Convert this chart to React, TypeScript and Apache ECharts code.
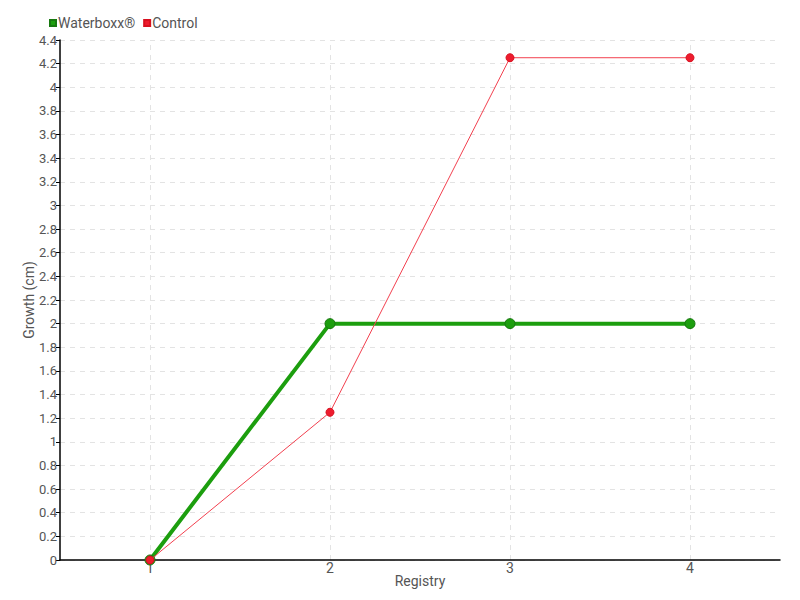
import React, { useEffect, useRef } from "react";
import * as echarts from "echarts";

const categories = ["1", "2", "3", "4"];
const waterboxx = [0, 2, 2, 2];
const control = [0, 1.25, 4.25, 4.25];
const seriesNames = ["Waterboxx®", "Control"];
const xAxisName = "Registry";
const yAxisName = "Growth (cm)";

const FONT = "Roboto, 'Liberation Sans Narrow', sans-serif";
const GRID = "#e3e3e3";

export default function App() {
  const ref = useRef<HTMLDivElement>(null);
  useEffect(() => {
    const chart = echarts.init(ref.current!, null, { renderer: "svg" });
    chart.setOption({
      animation: false,
      backgroundColor: "#fff",
      textStyle: { fontFamily: FONT },
      legend: {
        left: 44,
        top: 11,
        itemWidth: 6,
        itemHeight: 6,
        itemGap: 8,
        icon: "rect",
        textStyle: { fontFamily: FONT, fontSize: 14, color: "#555", padding: [0, 0, 0, -3] },
        data: seriesNames,
      },
      graphic: [
        {
          type: "text",
          x: 420,
          y: 581,
          style: {
            text: xAxisName,
            fontFamily: FONT,
            fontSize: 14,
            fill: "#555",
            align: "center",
            verticalAlign: "middle",
          },
        },
        {
          type: "text",
          x: 29,
          y: 300,
          rotation: Math.PI / 2,
          style: {
            text: yAxisName,
            fontFamily: FONT,
            fontSize: 14,
            fill: "#555",
            align: "center",
            verticalAlign: "middle",
          },
        },
      ],
      grid: { left: 60, right: 20, top: 40, bottom: 40, containLabel: false },
      xAxis: {
        type: "category",
        data: categories,
        boundaryGap: true,
        axisLine: { lineStyle: { color: "#000", width: 1.5 } },
        axisTick: { alignWithLabel: true, length: 6, inside: false, lineStyle: { color: "#555" } },
        axisLabel: { fontFamily: FONT, fontSize: 14, color: "#555", margin: 1 },
        splitLine: { show: false },
      },
      yAxis: {
        type: "value",
        min: 0,
        max: 4.4,
        interval: 0.2,
        axisLine: { show: true, lineStyle: { color: "#000", width: 1.5 } },
        axisTick: { show: true, length: 4, lineStyle: { color: "#000" } },
        axisLabel: { fontFamily: FONT, fontSize: 13, color: "#555", margin: 3 },
        splitLine: { show: true, lineStyle: { color: GRID, type: [5, 5] } },
      },
      series: [
        {
          name: seriesNames[0],
          type: "line",
          data: waterboxx,
          color: "#1c9e0e",
          lineStyle: { width: 4, color: "#1c9e0e" },
          symbol: "circle",
          symbolSize: 10,
          itemStyle: { color: "#1c9e0e", borderColor: "#17780f", borderWidth: 1 },
          markLine: {
            silent: true,
            symbol: "none",
            label: { show: false },
            lineStyle: { color: GRID, type: [5, 5], width: 1 },
            data: categories.map((c) => ({ xAxis: c })),
            z: 0,
          },
          z: 2,
        },
        {
          name: seriesNames[1],
          type: "line",
          data: control,
          color: "#ee1c2e",
          lineStyle: { width: 1, color: "#f2404f" },
          symbol: "circle",
          symbolSize: 8,
          itemStyle: { color: "#ee1c2e", borderColor: "#d8101f", borderWidth: 1 },
          z: 3,
        },
      ],
    });
    return () => chart.dispose();
  }, []);
  return <div ref={ref} style={{ width: 800, height: 600, position: "absolute", left: 0, top: 0 }} />;
}
